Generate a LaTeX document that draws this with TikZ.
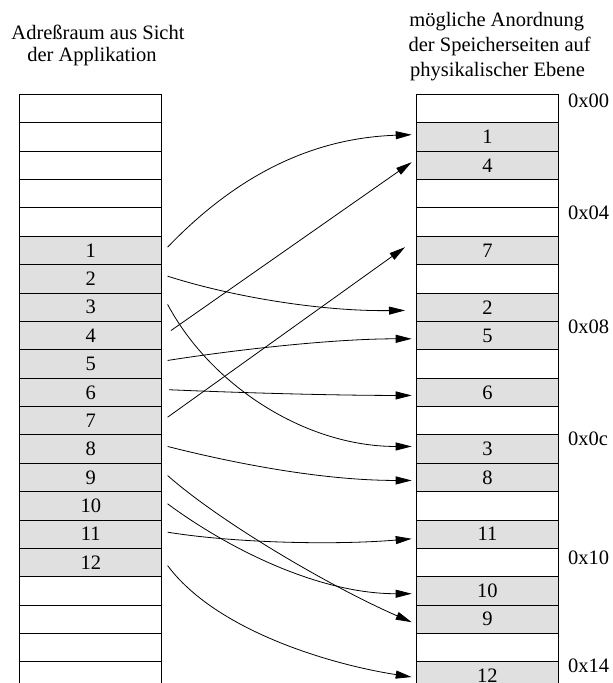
\documentclass[tikz,border=0pt]{standalone}
\usepackage{fontspec}
\setmainfont{Liberation Serif}
\usetikzlibrary{arrows.meta}

\definecolor{pagegray}{RGB}{224,224,224}

\begin{document}
\begin{tikzpicture}[x=1pt,y=-1pt,
  txt/.style={font=\fontsize{20.5}{24}\selectfont},
  cell/.style={txt, draw, line width=0.9pt, minimum width=142pt, minimum height=28.37pt,
               inner sep=0pt, anchor=north west},
  used/.style={cell, fill=pagegray},
  title/.style={txt, anchor=base, inner sep=0pt},
  addr/.style={txt, anchor=west, inner sep=0pt},
  map/.style={line width=0.8pt, -{Triangle[length=16pt,width=8pt]}}]
\clip (0,0) rectangle (613,683);

% headings
\node[title] (tl1) at (98,39.3) {Adreßraum aus Sicht};
\node[title] (tl2) at (92,61.7) {der Applikation};
\node[title] (tr1) at (496.7,26.7) {mögliche Anordnung};
\node[title] (tr2) at (499.7,51.7) {der Speicherseiten auf};
\node[title] (tr3) at (497.5,76) {physikalischer Ebene};

% virtual address space: free slots and pages 1..12
\foreach \r in {0,...,4,17,18,19,20}
  \node[cell] (vfree\r) at (19.3,{94+\r*28.37}) {};
\foreach \n in {1,...,12}
  \node[used] (v\n) at (19.3,{94+(\n+4)*28.37}) {\n};

% physical memory: free frames and placed pages
\foreach \r in {0,3,4,6,9,11,14,16,19}
  \node[cell] (pfree\r) at (416,{94+\r*28.37}) {};
\foreach \r/\n in {1/1,2/4,5/7,7/2,8/5,10/6,12/3,13/8,15/11,17/10,18/9,20/12}
  \node[used] (p\n) at (416,{94+\r*28.37}) {\n};

% addresses of the physical frames
\node[addr] (a00) at (568,101) {0x00};
\node[addr] (a04) at (568,213) {0x04};
\node[addr] (a08) at (568,327) {0x08};
\node[addr] (a0c) at (568,439) {0x0c};
\node[addr] (a10) at (568,558) {0x10};
\node[addr] (a14) at (568,666) {0x14};

% page mapping
\draw[map] ([shift={(5.4,-3.3)}]v1.east) .. controls +(58.3,-60.7) and +(-111.7,3.7) .. ([shift={(-4.3,-2.3)}]p1.west);
\draw[map] ([shift={(5.4,-2.7)}]v2.east) .. controls +(63.3,20.3) and +(-85,1) .. ([shift={(-11,3.2)}]p2.west);
\draw[map] ([shift={(5.4,-2.8)}]v3.east) .. controls +(43.3,81) and +(-106.7,0) .. ([shift={(-4.3,-2.6)}]p3.west);
\draw[map] ([shift={(8.7,-5)}]v4.east) -- ([shift={(-4.3,-3.2)}]p4.west);
\draw[map] ([shift={(5.4,-3.5)}]v5.east) .. controls +(63.3,-10) and +(-81.7,0) .. ([shift={(-4.3,3.2)}]p5.west);
\draw[map] ([shift={(7,-2.6)}]v6.east) .. controls +(61.7,2.7) and +(-81.7,0) .. ([shift={(-4.3,3.1)}]p6.west);
\draw[map] ([shift={(5.4,-3.5)}]v7.east) -- ([shift={(-11,-3.3)}]p7.west);
\draw[map] ([shift={(5.4,-2.6)}]v8.east) .. controls +(63.3,16) and +(-91.7,0) .. ([shift={(-4.3,3)}]p8.west);
\draw[map] ([shift={(5.4,-1.9)}]v9.east) .. controls +(53.3,47) and +(-81.7,-35.7) .. ([shift={(-4.3,2.9)}]p9.west);
\draw[map] ([shift={(5.4,-2)}]v10.east) .. controls +(63.3,46.7) and +(-91.7,0) .. ([shift={(-4.3,2.8)}]p10.west);
\draw[map] ([shift={(5.4,-2)}]v11.east) .. controls +(63.3,10.3) and +(-81.7,6.7) .. ([shift={(-4.3,4.6)}]p11.west);
\draw[map] ([shift={(5.4,3)}]v12.east) .. controls +(48.3,65) and +(-81.7,-12.7) .. ([shift={(-4.3,1)}]p12.west);
\end{tikzpicture}
\end{document}
